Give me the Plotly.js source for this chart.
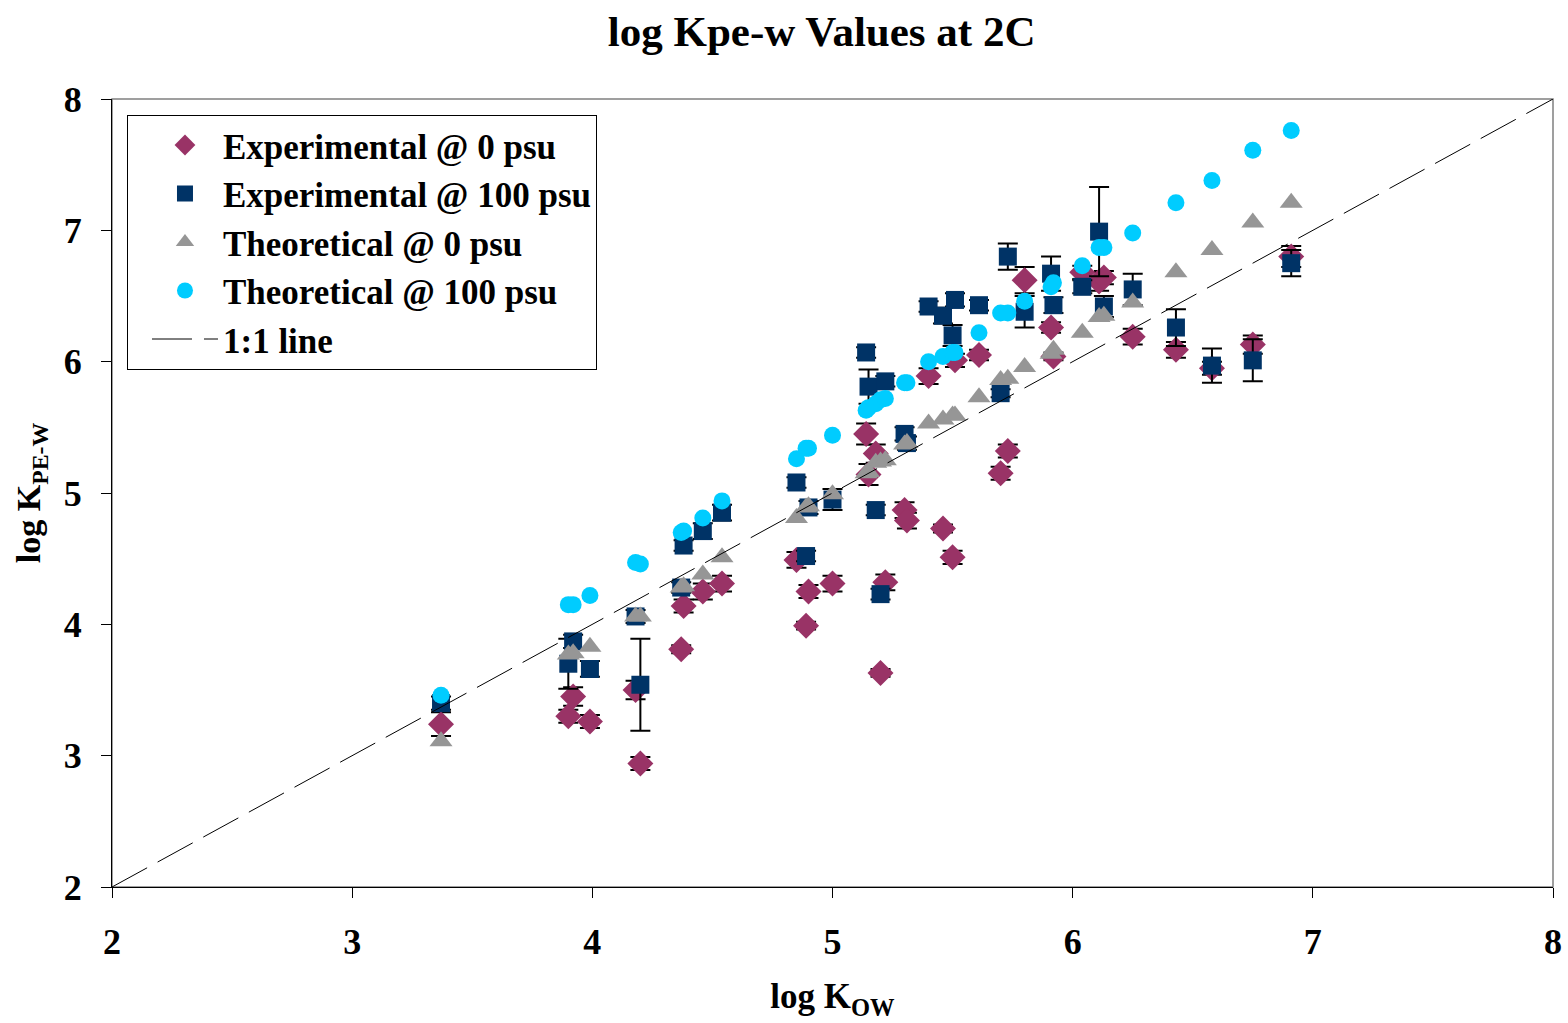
<!DOCTYPE html>
<html>
<head>
<meta charset="utf-8">
<script src="https://cdn.plot.ly/plotly-3.0.1.min.js"></script>
<style>html,body{margin:0;padding:0;background:#fff;}#chart{width:1568px;height:1023px;}</style>
</head>
<body>
<div id="chart"></div>
<script>
// log Kow of each compound (shared x values)
const logKow = [3.37,3.90,3.92,3.99,4.18,4.20,4.37,4.38,4.46,4.54,4.85,4.89,4.90,5.00,5.14,5.15,5.18,5.20,5.22,5.30,5.31,5.40,5.46,5.50,5.51,5.61,5.70,5.73,5.80,5.91,5.92,6.04,6.11,6.13,6.25,6.43,6.58,6.75,6.91];
// Experimental @ 0 psu
const exp0 = [3.24,3.30,3.45,3.26,3.50,2.94,3.81,4.14,4.25,4.31,4.49,3.99,4.25,4.31,5.45,5.14,5.30,3.63,4.32,4.87,4.79,5.89,4.73,4.51,6.01,6.05,5.15,5.32,6.62,6.26,6.04,6.68,6.61,6.64,6.19,6.09,5.95,6.13,6.80];
const exp0Err = [0.09,0.05,0.07,0.05,0.07,0.05,0.03,0.05,0.06,0.06,0.06,0.03,0.05,0.06,0.08,0.08,0.07,0.03,0.06,0.06,0.06,0.06,0.03,0.05,0.05,0.04,0.05,0.05,0.10,0.04,0.03,0.05,0.07,0.05,0.06,0.06,0.05,0.07,0.08];
// Experimental @ 100 psu
const exp100 = [3.40,3.70,3.87,3.66,4.06,3.54,4.28,4.60,4.71,4.85,5.08,4.52,4.89,4.95,6.07,5.81,4.87,4.23,5.85,5.45,5.38,6.42,6.35,6.20,6.47,6.43,5.76,6.80,6.38,6.67,6.43,6.57,6.99,6.42,6.55,6.26,5.97,6.01,6.75];
const exp100Err = [0.05,0.19,0.05,0.06,0.05,0.35,0.04,0.04,0.06,0.06,0.04,0.04,0.05,0.08,0.04,0.13,0.04,0.04,0.04,0.05,0.05,0.04,0.06,0.08,0.05,0.04,0.03,0.10,0.12,0.13,0.06,0.05,0.34,0.08,0.12,0.14,0.13,0.16,0.10];
// Theoretical @ 0 psu
const th0 = [3.11,3.77,3.78,3.83,4.06,4.06,4.28,4.29,4.38,4.51,4.81,4.89,4.90,4.99,5.15,5.16,5.23,5.24,5.25,5.37,5.38,5.53,5.56,5.59,5.59,5.73,5.86,5.87,5.96,6.06,6.09,6.22,6.34,6.35,6.45,6.68,6.85,7.06,7.21];
// Theoretical @ 100 psu
const th100 = [3.46,4.15,4.15,4.22,4.47,4.46,4.70,4.71,4.81,4.94,5.26,5.34,5.34,5.44,5.63,5.65,5.68,5.71,5.72,5.84,5.84,6.00,6.04,6.07,6.07,6.22,6.37,6.37,6.46,6.57,6.60,6.73,6.87,6.87,6.98,7.21,7.38,7.61,7.76];
// 1:1 line
const oneToOne = [2, 8];

const serif = "'Liberation Serif', 'Times New Roman', serif";
const errStyle = {type:'data', visible:true, color:'#000', thickness:2, width:10};

const traces = [
  {x: logKow, y: exp0, name: 'Experimental @ 0 psu', type:'scatter', mode:'markers',
   marker:{symbol:'diamond', size:20, color:'#993366'},
   error_y: Object.assign({array: exp0Err}, errStyle)},
  {x: logKow, y: exp100, name: 'Experimental @ 100 psu', type:'scatter', mode:'markers',
   marker:{symbol:'square', size:18, color:'#003366'},
   error_y: Object.assign({array: exp100Err}, errStyle)},
  {x: logKow, y: th0, name: 'Theoretical @ 0 psu', type:'scatter', mode:'markers',
   marker:{symbol:'triangle-up', size:20, color:'#969696'}},
  {x: logKow, y: th100, name: 'Theoretical @ 100 psu', type:'scatter', mode:'markers',
   marker:{symbol:'circle', size:17, color:'#00CCFF'}},
  {x: oneToOne, y: oneToOne, name: '1:1 line', type:'scatter', mode:'lines',
   line:{color:'#000', width:1, dash:'40px,12px'}}
];

const layout = {
  width:1568, height:1023,
  paper_bgcolor:'#fff', plot_bgcolor:'#fff',
  margin:{l:112, r:15, t:99, b:136},
  font:{family: serif, color:'#000'},
  title:{text:'<b>log Kpe-w Values at 2C</b>', font:{family:serif, size:43, color:'#000'}, x:0.524, xanchor:'center', y:0.970, yanchor:'middle'},
  xaxis:{range:[2,8], dtick:1, tick0:2, showgrid:false, zeroline:false,
    showline:true, linecolor:'#000', linewidth:1, ticks:'outside', ticklen:10, tickcolor:'#000',
    ticklabelstandoff:13,
    tickfont:{family:serif, size:36, weight:'bold'},
    title:{text:'<b>log K<sub>OW</sub></b>', font:{family:serif, size:35}, standoff:22}},
  yaxis:{range:[2,8], dtick:1, tick0:2, showgrid:false, zeroline:false,
    showline:true, linecolor:'#000', linewidth:1, ticks:'outside', ticklen:10, tickcolor:'#000',
    ticklabelstandoff:12,
    tickfont:{family:serif, size:36, weight:'bold'},
    title:{text:'<b>log K<sub>PE-W</sub></b>', font:{family:serif, size:34}, standoff:12}},
  legend:{x:0.0104, y:0.98, xanchor:'left', yanchor:'top', bgcolor:'#fff',
    bordercolor:'#000', borderwidth:1, font:{family:serif, size:35, weight:'bold'},
    tracegroupgap:0, itemwidth:66, indentation:19},
  shapes:[{type:'rect', xref:'paper', yref:'paper', x0:0, x1:1, y0:0, y1:1,
    line:{color:'#808080', width:1.5}, layer:'below'}],
  showlegend:true
};

Plotly.newPlot('chart', traces, layout, {displayModeBar:false, staticPlot:true});
</script>
</body>
</html>
